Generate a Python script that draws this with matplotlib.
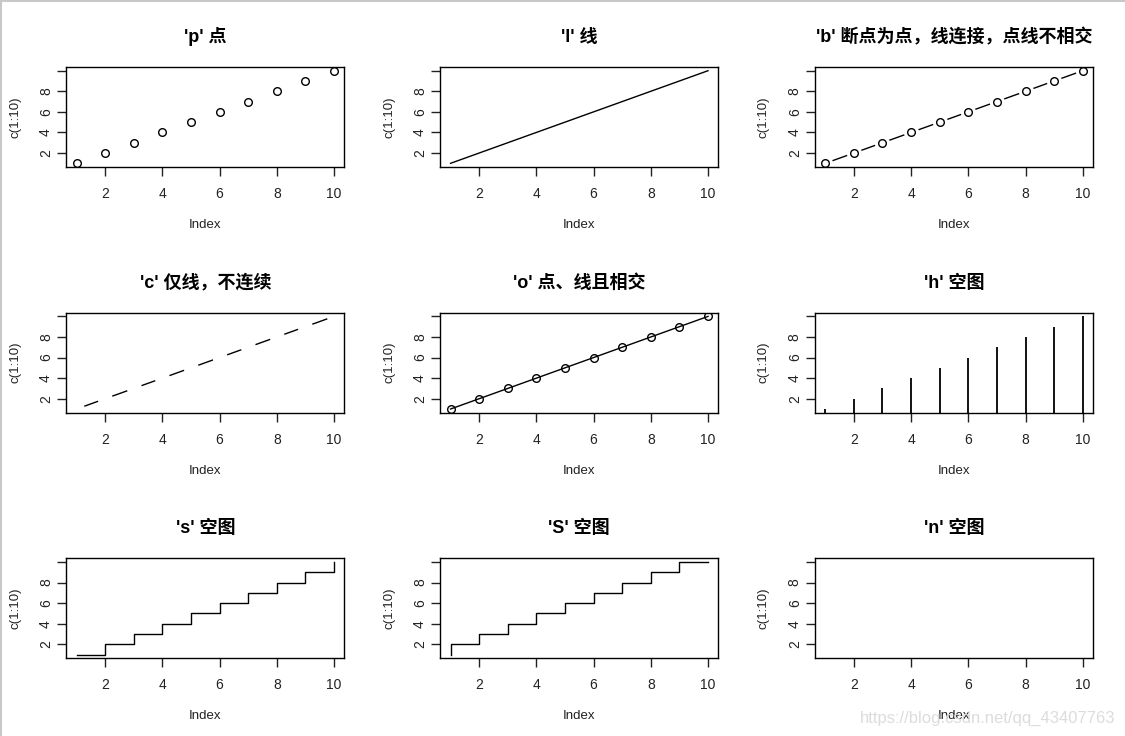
import matplotlib
matplotlib.use("Agg")
import matplotlib.pyplot as plt
from matplotlib.lines import Line2D

plt.rcParams['font.family'] = ['Liberation Sans', 'Noto Sans CJK SC', 'DejaVu Sans']

# data: plot(c(1:10), type=...)
index = [1, 2, 3, 4, 5, 6, 7, 8, 9, 10]
values = [1, 2, 3, 4, 5, 6, 7, 8, 9, 10]
types = ['p', 'l', 'b', 'c', 'o', 'h', 's', 'S', 'n']
titles = ["'p' 点", "'l' 线", "'b' 断点为点，线连接，点线不相交",
          "'c' 仅线，不连续", "'o' 点、线且相交", "'h' 空图",
          "'s' 空图", "'S' 空图", "'n' 空图"]
xticks = [2, 4, 6, 8, 10]
yticks = [2, 4, 6, 8, 10]
yticklabels = ['2', '4', '6', '8', '']

W, H = 1125, 736
fig = plt.figure(figsize=(W / 100, H / 100), dpi=100)

lefts = [66.3, 440.3, 815.0]
tops = [67.0, 312.7, 558.3]
aw, ah = 278.0, 100.0

lw = 1.0
for i, (t, title) in enumerate(zip(types, titles)):
    r, c = divmod(i, 3)
    ax = fig.add_axes([lefts[c] / W, 1 - (tops[r] + ah) / H, aw / W, ah / H])
    ax.set_xlim(0.64, 10.36)
    ax.set_ylim(0.64, 10.36)

    if t == 'p':
        ax.plot(index, values, 'o', mfc='none', mec='black', ms=5.5, mew=1.0)
    elif t == 'l':
        ax.plot(index, values, '-', color='black', lw=lw)
    elif t in ('b', 'c'):
        ax.plot(index, values, '-', color='black', lw=lw, zorder=1)
        # white masks leave the gaps around each point
        ax.plot(index, values, 'o', mfc='white', mec='white', ms=11, mew=0, zorder=1.5)
        if t == 'b':
            ax.plot(index, values, 'o', mfc='none', mec='black', ms=5.5, mew=1.0, zorder=1.6)
    elif t == 'o':
        ax.plot(index, values, '-o', color='black', mfc='none', mec='black',
                ms=5.5, mew=1.0, lw=lw)
    elif t == 'h':
        ax.vlines(index, 0, values, color='black', lw=1.3)
    elif t == 's':
        ax.plot(index, values, color='black', lw=lw, drawstyle='steps-post')
    elif t == 'S':
        ax.plot(index, values, color='black', lw=lw, drawstyle='steps-pre')

    ax.set_title(title, fontsize=13, fontweight='bold', pad=18, color='black')
    ax.set_xticks(xticks)
    ax.set_yticks(yticks)
    ax.set_yticklabels(yticklabels, rotation=90, va='center')
    ax.tick_params(length=6.5, width=1.0, labelsize=10, colors='#222222')
    ax.tick_params(axis='x', pad=8)
    ax.tick_params(axis='y', pad=3)
    for s in ax.spines.values():
        s.set_linewidth(1.0)
        s.set_color('black')
    ax.set_xlabel('Index', fontsize=9.5, labelpad=13, color='#222222')
    ax.set_ylabel('c(1:10)', fontsize=9.5, labelpad=13, color='#222222')

# screenshot frame and watermark
fig.add_artist(Line2D([0, 1], [1 - 1 / H, 1 - 1 / H], transform=fig.transFigure,
                      color='#c8c8c8', lw=1.5))
fig.add_artist(Line2D([0.5 / W, 0.5 / W], [0, 1], transform=fig.transFigure,
                      color='#c8c8c8', lw=1.5))
fig.text(1115 / W, 1 - 718 / H, 'https://blog.csdn.net/qq_43407763', ha='right',
         va='center', fontsize=12, color='#dcdcdc')

fig.savefig('out.png', dpi=100)
